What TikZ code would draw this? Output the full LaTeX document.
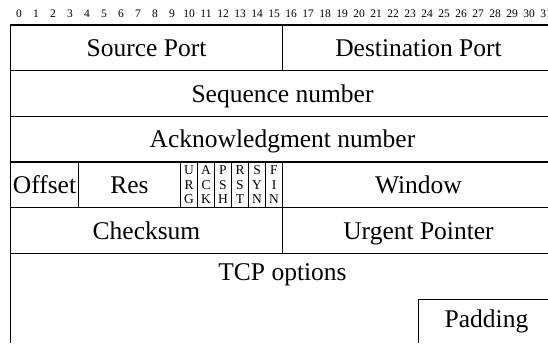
\documentclass[tikz,border=0pt]{standalone}
\usepackage{fontspec}
\setmainfont{Liberation Serif}
\newfontfamily\timesf{Liberation Serif}
\begin{document}
\begin{tikzpicture}[x=1pt,y=-1pt,
  grid/.style={line width=1.1pt},
  field/.style={font=\timesf\fontsize{25.5}{30}\selectfont, inner sep=0pt, anchor=base},
  flag/.style={font=\timesf\fontsize{13.5}{14.5}\selectfont, align=center, inner sep=0pt, anchor=center},
  bitnum/.style={font=\timesf\fontsize{11.5}{13}\selectfont, inner sep=0pt, anchor=base}]
\useasboundingbox (0,0) rectangle (548,343);
\clip (0,0) rectangle (548,343);
\def\xa{10.5}\def\xb{554.5}
\def\ra{25}\def\rb{70.7}\def\rc{116.4}\def\rd{162}\def\re{207.8}\def\rf{253.5}\def\rg{299.2}
% bit numbers
\foreach \i in {0,...,31}{
  \node[bitnum] (b\i) at ({\xa+(\i+0.5)*17},17.5) {\i};
}
% frame
\draw[grid] (\xa,343) -- (\xa,\ra) -- (\xb,\ra) -- (\xb,343);
\foreach \y in {\rb,\rc,\rd,\re,\rf}{
  \draw[grid] (\xa,\y) -- (\xb,\y);
}
% row 1 divider
\draw[grid] (282.5,\ra) -- (282.5,\rb);
% row 4 dividers
\draw[grid] (78.5,\rd) -- (78.5,\re);
\foreach \k in {0,...,6}{
  \draw[grid] ({180.5+17*\k},\rd) -- ({180.5+17*\k},\re);
}
% row 5 divider
\draw[grid] (282.5,\re) -- (282.5,\rf);
% padding
\draw[grid] (418.5,343) -- (418.5,\rg) -- (\xb,\rg);
% texts
\node[field] (src) at (146.5,{\ra+31.8}) {Source Port};
\node[field] (dst) at (418.5,{\ra+31.8}) {Destination Port};
\node[field] (seq) at (282.5,{\rb+31.3}) {Sequence number};
\node[field] (ack) at (282.5,{\rc+31.3}) {Acknowledgment number};
\node[field] (off) at (44.5,{\rd+31.5}) {Offset};
\node[field] (res) at (129.5,{\rd+31.5}) {Res};
\node[flag] (urg) at (189,{(\rd+\re)/2}) {U\\R\\G};
\node[flag] (ackf) at (206,{(\rd+\re)/2}) {A\\C\\K};
\node[flag] (psh) at (223,{(\rd+\re)/2}) {P\\S\\H};
\node[flag] (rst) at (240,{(\rd+\re)/2}) {R\\S\\T};
\node[flag] (syn) at (257,{(\rd+\re)/2}) {S\\Y\\N};
\node[flag] (fin) at (274,{(\rd+\re)/2}) {F\\I\\N};
\node[field] (win) at (418.5,{\rd+31.5}) {Window};
\node[field] (chk) at (146.5,{\re+31.3}) {Checksum};
\node[field] (urp) at (418.5,{\re+31.3}) {Urgent Pointer};
\node[field] (opt) at (282.5,{\rf+27}) {TCP options};
\node[field] (pad) at (486.5,{\rg+28}) {Padding};
\end{tikzpicture}
\end{document}
